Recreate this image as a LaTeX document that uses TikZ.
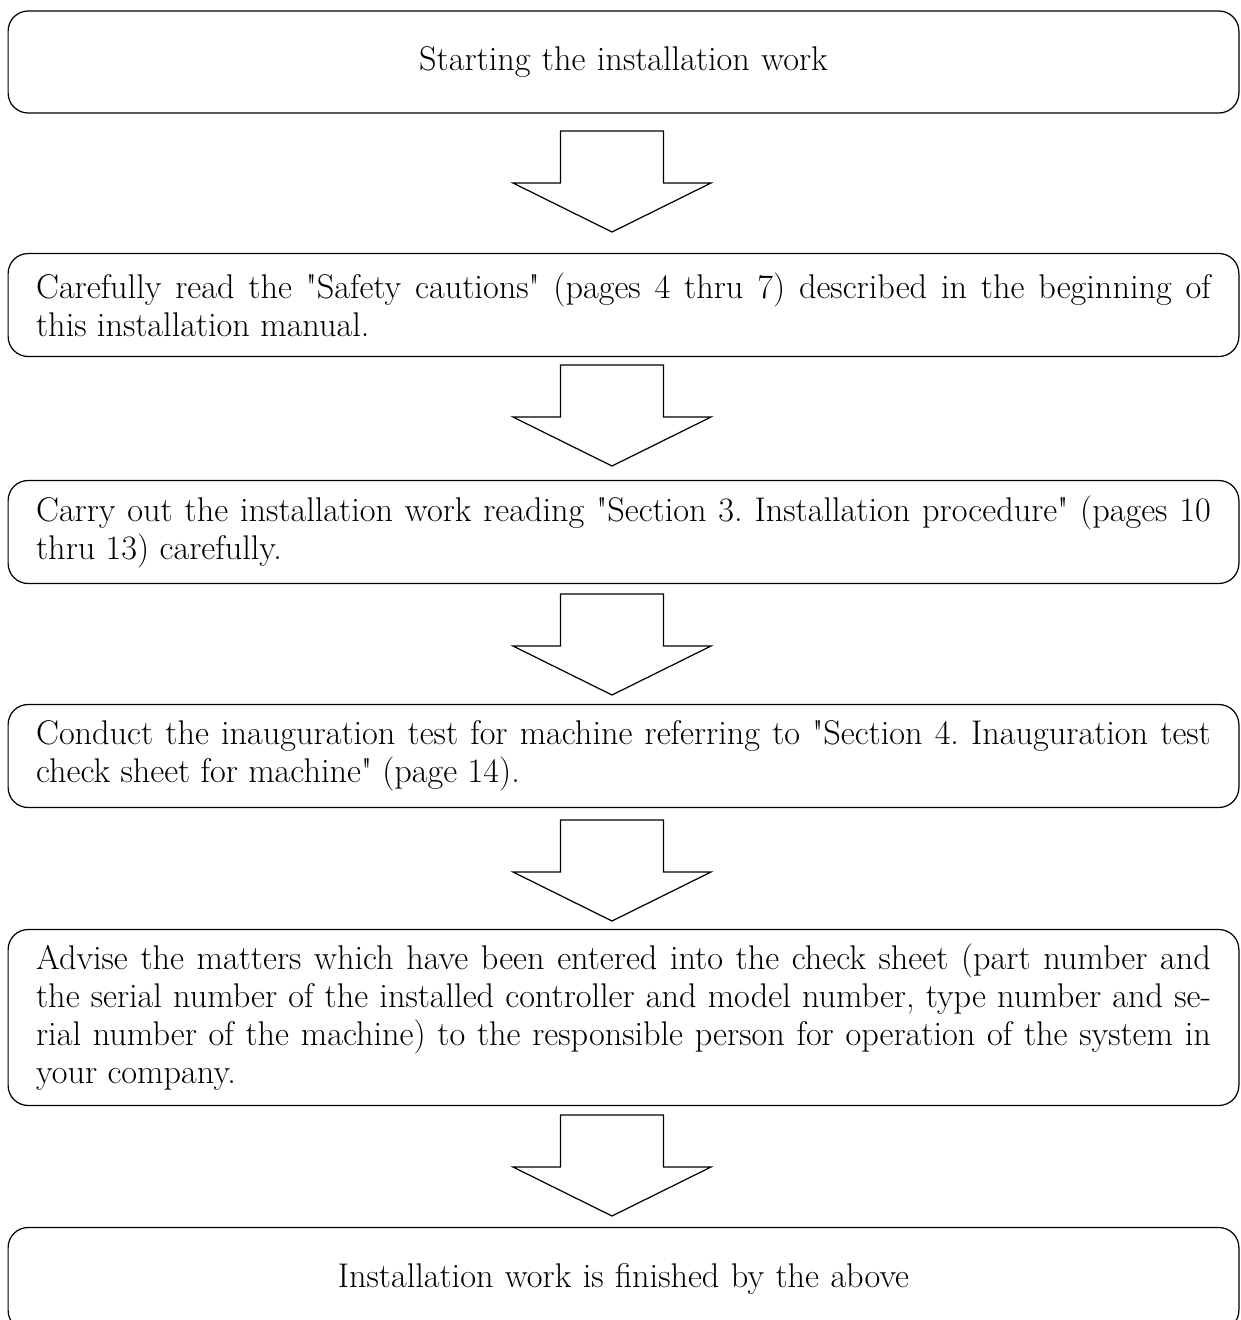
\documentclass[tikz,border=0pt]{standalone}
\usepackage{fontspec}
\setmainfont{Latin Modern Roman}[Ligatures=TeXOff]
\tikzset{
  stepbox/.style={draw, line width=0.7pt, rounded corners=0.4cm,
    minimum width=24.62cm, text width=23.5cm, align=justify,
    inner xsep=0pt, inner ysep=0pt},
  blockarrow/.style={draw, line width=0.7pt}
}
\begin{document}
\frenchspacing
\begin{tikzpicture}[x=0.02cm, y=-0.02cm, font=\fontsize{19.5}{21.6}\selectfont]
	\useasboundingbox (0,0) rectangle (1241,1320);
	% flow boxes
	\node[stepbox, minimum height=2.04cm, align=center] (start) at (623.5,62) {Starting the installation work};
	\node[stepbox, minimum height=2.06cm] (safety) at (623.5,305) {Carefully read the "Safety cautions" (pages 4 thru 7) described in the beginning of\linebreak this installation manual.};
	\node[stepbox, minimum height=2.06cm] (install) at (623.5,532) {Carry out the installation work reading "Section 3. Installation procedure" (pages 10\linebreak thru 13) carefully.};
	\node[stepbox, minimum height=2.06cm] (test) at (623.5,756) {Conduct the inauguration test for machine referring to "Section 4. Inauguration test\linebreak check sheet for machine" (page 14).};
	\node[stepbox, minimum height=3.52cm] (advise) at (623.5,1017.5) {Advise the matters which have been entered into the check sheet (part number and\linebreak the serial number of the installed controller and model number, type number and se-\linebreak rial number of the machine) to the responsible person for operation of the system in\linebreak your company.};
	\node[stepbox, minimum height=2.06cm, align=center] (finish) at (623.5,1279) {Installation work is finished by the above};
	% block arrows between the boxes
	\foreach \y in {131,365,594,820,1115}
		\draw[blockarrow] (612,\y) -- ++(51.5,0) -- ++(0,52) -- ++(47.5,0) -- ++(-99,49)
			-- ++(-99,-49) -- ++(47.5,0) -- ++(0,-52) -- cycle;
\end{tikzpicture}
\end{document}
